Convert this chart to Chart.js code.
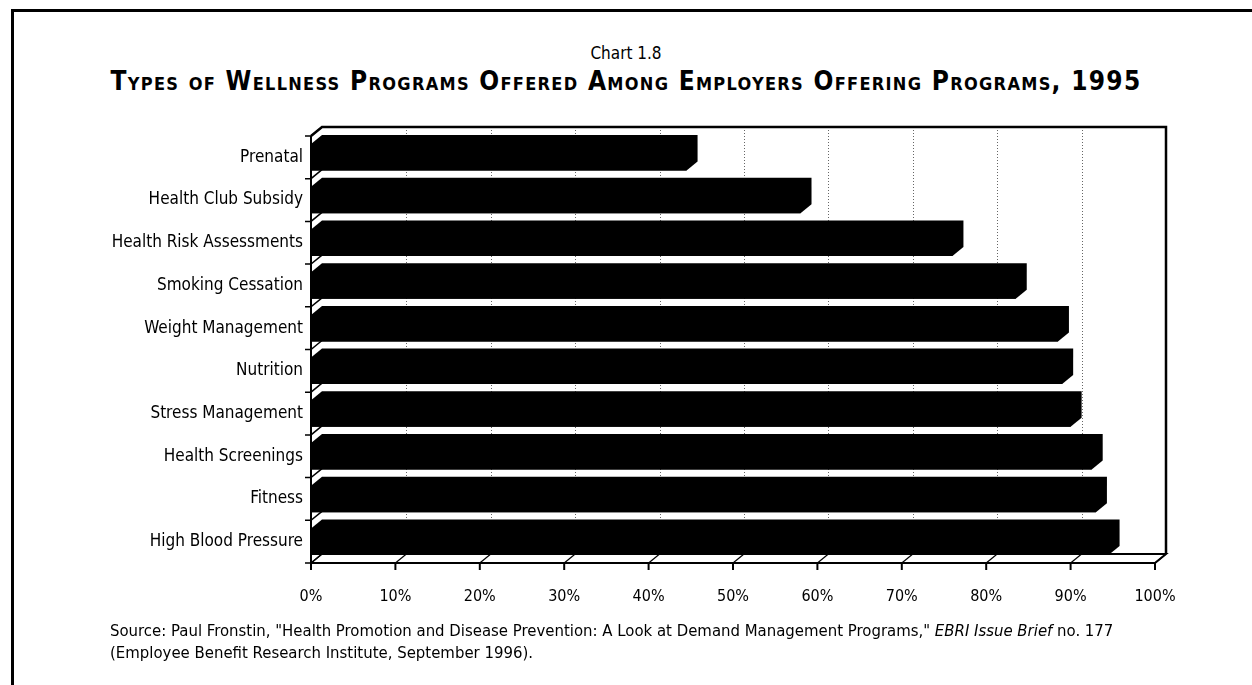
<!DOCTYPE html>
<html>
<head>
<meta charset="utf-8">
<script src="https://cdn.jsdelivr.net/npm/chart.js@4.4.1/dist/chart.umd.min.js"></script>
<style>
  html, body { margin: 0; padding: 0; background: #fff; }
  #page { position: relative; width: 1252px; height: 685px; overflow: hidden; font-family: "DejaVu Sans Condensed", "Liberation Sans Narrow", sans-serif; color: #000; }
  #frame { position: absolute; left: 11px; top: 9px; width: 1400px; height: 800px; border-top: 3px solid #000; border-left: 3px solid #000; }
  #chartnum { position: absolute; left: 0; width: 1252px; top: 43px; text-align: center; font-size: 17px; }
  #title { position: absolute; left: 0; width: 1252px; top: 66px; text-align: center; font-size: 26px; font-weight: bold; font-variant: small-caps; letter-spacing: 1.3px; line-height: 30px; }
  #source { position: absolute; left: 110px; top: 620px; font-size: 16.6px; line-height: 22px; }
  canvas { position: absolute; left: 0; top: 0; }
</style>
</head>
<body>
<div id="page">
  <div id="frame"></div>
  <div id="chartnum">Chart 1.8</div>
  <div id="title">Types of Wellness Programs Offered Among Employers Offering Programs, 1995</div>
  <canvas id="chart" width="1252" height="685"></canvas>
  <div id="source">Source: Paul Fronstin, "Health Promotion and Disease Prevention: A Look at Demand Management Programs," <i>EBRI Issue Brief</i> no. 177<br>(Employee Benefit Research Institute, September 1996).</div>
</div>
<script>
// data
var categories = ['Prenatal', 'Health Club Subsidy', 'Health Risk Assessments', 'Smoking Cessation',
  'Weight Management', 'Nutrition', 'Stress Management', 'Health Screenings', 'Fitness', 'High Blood Pressure'];
var percentOffered = [44.5, 58, 76, 83.5, 88.5, 89, 90, 92.5, 93, 94.5];
var tickLabels = ['0%', '10%', '20%', '30%', '40%', '50%', '60%', '70%', '80%', '90%', '100%'];

// depth of the fake 3D box
var DX = 11, DY = 9;

var box3d = {
  id: 'box3d',
  beforeDatasetsDraw: function(chart) {
    var ctx = chart.ctx, a = chart.chartArea;
    var xs = chart.scales.x;
    ctx.save();

    // dotted gridlines on the back wall
    ctx.strokeStyle = '#666';
    ctx.lineWidth = 1;
    ctx.setLineDash([1, 2]);
    for (var i = 1; i < tickLabels.length - 1; i++) {
      var gx = Math.round(xs.getPixelForValue(i * 10) + DX) + 0.5;
      ctx.beginPath();
      ctx.moveTo(gx, a.top - DY);
      ctx.lineTo(gx, a.bottom - DY);
      ctx.stroke();
    }
    ctx.setLineDash([]);

    // back wall outline
    ctx.strokeStyle = '#000';
    ctx.lineWidth = 2.5;
    ctx.beginPath();
    ctx.moveTo(a.left, a.top);
    ctx.lineTo(a.left + DX, a.top - DY);
    ctx.lineTo(a.right + DX, a.top - DY);
    ctx.lineTo(a.right + DX, a.bottom - DY);
    ctx.stroke();

    // floor
    ctx.lineWidth = 2;
    ctx.beginPath();
    ctx.moveTo(a.left + DX, a.bottom - DY);
    ctx.lineTo(a.right + DX, a.bottom - DY);
    ctx.lineTo(a.right, a.bottom);
    ctx.lineTo(a.left, a.bottom);
    ctx.lineTo(a.left, a.top);
    ctx.stroke();
    for (var j = 0; j < tickLabels.length; j++) {
      var fx = xs.getPixelForValue(j * 10);
      ctx.lineWidth = 1.2;
      ctx.beginPath();
      ctx.moveTo(fx, a.bottom);
      ctx.lineTo(fx + DX, a.bottom - DY);
      ctx.stroke();
      // tick mark below the axis
      ctx.lineWidth = 2;
      ctx.beginPath();
      ctx.moveTo(fx, a.bottom);
      ctx.lineTo(fx, a.bottom + 7);
      ctx.stroke();
    }

    // left wall: category boundaries
    var pitch = (a.bottom - a.top) / categories.length;
    ctx.lineWidth = 1.5;
    for (var k = 0; k <= categories.length; k++) {
      var by = a.top + k * pitch;
      ctx.beginPath();
      ctx.moveTo(a.left - 6, by);
      ctx.lineTo(a.left, by);
      ctx.lineTo(a.left + DX, by - DY);
      ctx.stroke();
    }
    ctx.restore();
  },
  afterDatasetsDraw: function(chart) {
    var ctx = chart.ctx;
    var meta = chart.getDatasetMeta(0);
    ctx.save();
    ctx.fillStyle = '#000';
    meta.data.forEach(function(bar) {
      var p = bar.getProps(['x', 'y', 'base', 'height'], true);
      var top = p.y - p.height / 2, bot = p.y + p.height / 2;
      ctx.beginPath();
      ctx.moveTo(p.base, bot);
      ctx.lineTo(p.base, top);
      ctx.lineTo(p.base + DX, top - DY);
      ctx.lineTo(p.x + DX, top - DY);
      ctx.lineTo(p.x + DX, bot - DY);
      ctx.lineTo(p.x, bot);
      ctx.closePath();
      ctx.fill();
    });
    ctx.restore();
  }
};

new Chart(document.getElementById('chart'), {
  type: 'bar',
  data: {
    labels: categories,
    datasets: [{
      data: percentOffered,
      backgroundColor: '#000',
      borderWidth: 0,
      categoryPercentage: 0.62,
      barPercentage: 1
    }]
  },
  options: {
    indexAxis: 'y',
    responsive: false,
    animation: false,
    layout: { padding: { left: 0, right: 97, top: 136, bottom: 0 } },
    plugins: { legend: { display: false }, tooltip: { enabled: false }, title: { display: false } },
    scales: {
      x: {
        min: 0, max: 100,
        grid: { display: false, drawTicks: false },
        border: { display: false },
        afterFit: function(s) { s.height = 122; },
        ticks: {
          stepSize: 10,
          padding: 24,
          color: '#000',
          maxRotation: 0,
          font: { family: '"DejaVu Sans Condensed", sans-serif', size: 16 },
          callback: function(v, i) { return tickLabels[i]; }
        }
      },
      y: {
        grid: { display: false, drawTicks: false },
        border: { display: false },
        afterFit: function(s) { s.width = 311; },
        ticks: {
          padding: 8,
          color: '#000',
          font: { family: '"DejaVu Sans Condensed", sans-serif', size: 17 }
        }
      }
    }
  },
  plugins: [box3d]
});
</script>
</body>
</html>
